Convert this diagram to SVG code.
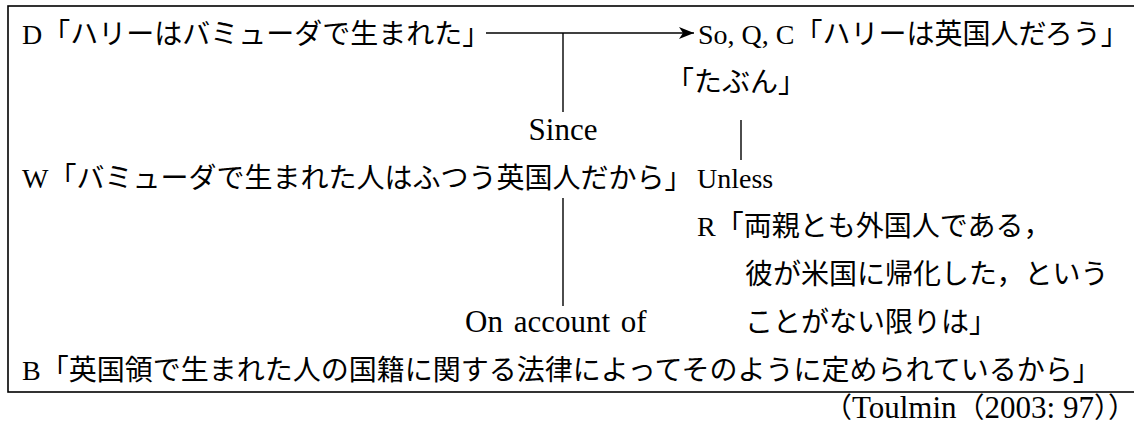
<svg xmlns="http://www.w3.org/2000/svg" width="1134" height="427" viewBox="0 0 1134 427">
<defs>
<style>
text{font-family:"Liberation Serif","Noto Sans CJK JP",serif;font-size:28px;fill:#000}
.lat{font-size:31px}
.src{font-size:31px}
.ln{stroke:#000;stroke-width:1.4;fill:none}
</style>
<marker id="ah" markerWidth="15" markerHeight="12" refX="15" refY="6" orient="auto" markerUnits="userSpaceOnUse">
<path d="M0,0 L15,6 L0,12 L4,6 Z" fill="#000"/>
</marker>
</defs>
<rect x="8" y="6" width="1140" height="386" fill="#fff" stroke="#000" stroke-width="1.6"/>
<g id="connectors">
<line class="ln" x1="486" y1="33" x2="694" y2="33" stroke-width="2.4" marker-end="url(#ah)"/>
<line class="ln" x1="563" y1="33" x2="563" y2="112"/>
<line class="ln" x1="741" y1="120" x2="741" y2="160"/>
<line class="ln" x1="563" y1="198" x2="563" y2="306"/>
</g>
<g id="D"><text x="22" y="44">D「ハリーはバミューダで生まれた」</text></g>
<g id="C"><text x="698" y="44">So, Q, C「ハリーは英国人だろう」</text></g>
<g id="Q"><text x="666" y="92">「たぶん」</text></g>
<g id="since"><text class="lat" x="563" y="140" text-anchor="middle">Since</text></g>
<g id="W"><text x="22" y="188">W「バミューダで生まれた人はふつう英国人だから」</text></g>
<g id="unless"><text x="697" y="188">Unless</text></g>
<g id="R">
<text x="697" y="236">R「両親とも外国人である，</text>
<text x="745" y="284">彼が米国に帰化した，という</text>
<text x="745" y="332">ことがない限りは」</text>
</g>
<g id="onaccount"><text class="lat" x="465" y="332" word-spacing="3">On account of</text></g>
<g id="B"><text x="22" y="380">B「英国領で生まれた人の国籍に関する法律によってそのように定められているから」</text></g>
<g id="src"><text x="1136" y="418" text-anchor="end">（<tspan class="src">Toulmin</tspan>（<tspan class="src">2003:&#160;97</tspan>））</text></g>
</svg>
